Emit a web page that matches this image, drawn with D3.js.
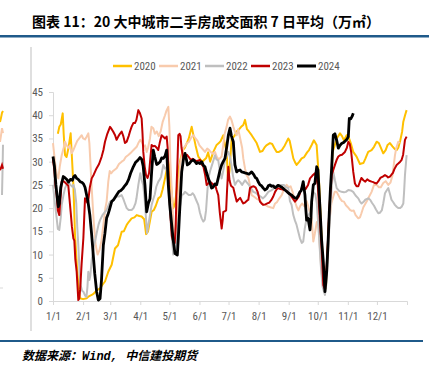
<!DOCTYPE html>
<html>
<head>
<meta charset="utf-8">
<script src="https://cdn.jsdelivr.net/npm/d3@7"></script>
<style>
  html, body { margin: 0; padding: 0; background: #fff; }
  svg { display: block; }
  .tick-label { font-family: "Liberation Sans Narrow", "Roboto Condensed", Arial, sans-serif; font-size: 11px; fill: #595959; }
</style>
</head>
<body>
<svg id="chart" width="429" height="373"></svg>
<script>
// month ticks (day of year) and labels
const monthDays = [0, 31, 59, 90, 120, 151, 181, 212, 243, 273, 304, 334];
const monthLabels = ["1/1", "2/1", "3/1", "4/1", "5/1", "6/1", "7/1", "8/1", "9/1", "10/1", "11/1", "12/1"];
const yTicks = [0, 5, 10, 15, 20, 25, 30, 35, 40, 45];

const years = ["2020", "2021", "2022", "2023", "2024"];
const colors = ["#ffc000", "#f8cbad", "#bfbfbf", "#c00000", "#000000"];

// [day of year, value]
const s2020 = [[5,36],[6.5,37.5],[8,38],[10,40.4],[11,36],[12.4,31.4],[14,31],[16,33],[18.2,36.1],[19,33],[21,25],[22.7,14.2],[24.5,8],[26.1,3.4],[27.8,0.6],[31,0.4],[34.7,0.6],[37,1],[39.9,1.3],[42,1.6],[45,2.3],[48.5,2.7],[51,3.5],[53.6,4.2],[57,6.3],[60.5,7.8],[63.9,11.3],[67,12],[70.8,14.9],[73,15],[76,16.4],[78,17],[81.1,17.8],[84,18],[86.3,18.5],[89,18.3],[91.4,18.2],[94,17.6],[96,14.4],[98,15],[101.7,19.2],[104,19.6],[106,20.5],[108.6,22.1],[111,22.5],[113,24],[115.5,26.4],[117,28],[118.9,30],[120,29],[122,24],[124,20],[126,21],[128,25],[130,29],[132,31],[134,32.5],[136,33],[138,34],[140,35],[143,37.5],[145,35.5],[147,33.5],[149.8,31.1],[152,30.5],[154,30],[156,30.4],[158,30.8],[160,32],[162,30],[165.3,32.1],[168.7,33.6],[171,34],[173,34.5],[175.6,35.7],[177,34],[179,32.1],[180.5,26],[182,28],[184.2,35],[187,35.5],[189.4,36.5],[192,37],[194,37.5],[196.2,37.9],[198,39],[200,37],[202,36.5],[204.8,35.7],[207,35],[210,34],[213.4,32.1],[216,32.3],[218,33],[220,33.5],[223.7,34],[226,33.8],[228,33],[230.6,32.1],[233,32.1],[236,32.5],[239,33.5],[242.6,35],[244,34.5],[246,32.5],[247.8,30.7],[249.5,29.9],[251.2,29.3],[254,30],[256.4,30.7],[259,31],[262,32],[264,32.5],[266.7,33.6],[269,34.6],[271.8,33.6],[273,30],[274.5,25],[276,17.8],[278.7,6.3],[281.4,2.7],[283,10],[284.5,17],[286.3,22.1],[288.3,32.1],[290.5,33.5],[292.5,35],[295.9,36.1],[298,35.5],[300,34.6],[302.8,35.7],[305,35.2],[307,34],[309.6,32.1],[313,31.1],[316.5,29.5],[318,29.6],[320,29.7],[322,30.6],[325,32.1],[328.5,32.5],[331,33.2],[333.7,34.3],[336,34],[338,33],[340.5,31.8],[343,32.5],[345,33.6],[347.4,34],[350,33.3],[352,32.8],[354.3,32.5],[356,33],[358,34.5],[360,36.5],[361.2,38.6],[363,40],[364.6,41.1]];

const s2021 = [[0,34],[2,30],[4,27],[5.5,26.4],[7,29],[9,31.4],[11,33],[12.4,34.3],[14,33.5],[16,33],[17.5,33.5],[19.3,31.8],[21,32.5],[23,33.5],[25,34.5],[27,35],[29.6,35.7],[31,35],[33,34.8],[34.5,35.3],[36.4,36.1],[37.5,34],[38.5,30],[40,24],[42,17],[44,12],[46,10],[48,11],[50,13],[52,16.5],[54,20],[55.3,21.4],[57,25.7],[58.5,28],[60,27.5],[62,28],[65.6,28.6],[68,29.5],[70.8,30],[73,30.3],[75,31],[78,31.5],[81.1,32.1],[83,32.5],[86.3,33.2],[88,34],[90,34.7],[92,34],[93.1,33.2],[95,33.5],[96.6,32.1],[98,33],[100,35],[101.5,37.5],[103.4,37.2],[105,36],[107,36.5],[109,35.5],[111,36.5],[113,38.5],[115.5,40],[117,41],[118.9,41.8],[120,37.5],[121,30],[122.4,24],[124,17],[126,13],[128,17],[130,24],[130.9,29.3],[132.5,31],[134.3,32.9],[136,33.3],[138,34],[140,34.2],[142,35],[144.7,35.7],[147,35],[149,34.5],[151,33.5],[153,33],[156.7,32.1],[159,32.8],[161,32.5],[163,32],[165,31.7],[167,32.1],[169,31],[171,30.5],[173.9,31.1],[175.5,33.5],[177,36],[179,37.5],[180.5,39],[182.5,39.7],[184,39],[186,37.5],[187.5,36.5],[189.4,35.7],[191,37],[193,35],[195,33],[196.2,30.7],[198,28.5],[199.7,27.1],[201.5,26.5],[203,25],[204.8,22.8],[207,22.5],[210,22],[213.4,21.7],[216.8,20.7],[219,20.7],[221,20.4],[224,20.2],[227.1,20],[229,21],[231,21.3],[233,22],[235.8,22.8],[238,24],[240.9,25],[243,24.5],[245,24.7],[247,23.5],[249,21.8],[251.2,20.3],[253,19.5],[255,20.5],[257,21],[259,20.4],[261.5,21.5],[263,20.5],[265,19],[266.7,17.8],[268.4,12.8],[270,14.5],[272,17],[273.5,17],[275,12],[277,6],[279,3],[281,3],[283,10],[285,17],[287,21],[289,22.5],[290.5,23.5],[292.5,23.5],[295.9,22.1],[298,21.5],[300,21.4],[302,20.6],[304,20.2],[306.2,19.6],[308,19.4],[310,19.5],[312,18.5],[314.8,17.8],[316.5,18],[318,18.9],[320,20.2],[323.4,21.4],[326,22.5],[328.5,23.5],[331,25],[333.7,25],[336,24.5],[338,24.5],[340.5,25.4],[343,25.8],[345.7,25],[348,25.5],[350,27],[352.6,31.4],[354,33],[356,34.3],[357.5,34]];

const s2022 = [[0,25],[2,21],[3.8,17.8],[5,15.5],[6.5,15.3],[8,18],[9,20.7],[11,23],[12.4,24.3],[14,25],[16,25.5],[18,25],[20,24.6],[21,25],[22.5,24],[24,21],[25,16],[26.1,12],[27.5,6],[28.5,3.4],[30,2.2],[31.3,2],[33,1.2],[34.5,0.9],[35.5,3],[36.4,6.3],[37.5,4.5],[38.5,5.5],[40,9],[42,11.7],[44,13.5],[45,14.6],[47,16.5],[48.5,17.4],[51,18.5],[53.6,19.2],[55.3,19.6],[57,20.5],[58.8,21.4],[61,21.6],[63,22],[65.6,22.5],[68,22.5],[70.8,22.8],[72.5,22],[74.2,21],[76,20],[78,19.6],[81.1,19.6],[83,20],[85,21],[86,22],[88,25],[90,27.5],[91.5,26],[93,25],[94.5,22],[96,17.4],[97,14.6],[98.3,16.4],[100,18.5],[101.7,20.7],[103.5,22],[105,23],[106.5,24.6],[108.6,25.7],[110.5,26.3],[111.5,26.8],[113.7,29.3],[115.5,28.5],[117,28.8],[118.5,26],[120,21],[122,15],[124,10],[126,10.5],[128,14],[130,19],[132.7,22.8],[134.5,23],[136.1,23.5],[138,23.2],[140,22.8],[142,22.8],[144,23.2],[145.5,22.8],[147.5,21.8],[149.8,20.7],[151.5,19],[153.3,17.8],[155,17.1],[156.5,17.5],[157.8,19.5],[160.1,26.4],[162,28],[164,29.3],[167,31.4],[168.5,30.5],[170.4,30.3],[172,28],[173.9,26.4],[175.5,28],[177.5,30.5],[180.8,32.1],[182.5,31],[184,29.3],[185.5,27],[187.6,25],[189.5,25.7],[191,26],[193,25.6],[195,25],[198,26],[200,25.5],[202,25],[204,24.3],[206.5,23.5],[209,23.3],[211.7,22.8],[214,22.5],[216.5,22.1],[219,22.6],[222,23.5],[225,23.8],[228,24.3],[232.3,25],[235,25],[238,25],[240,24.5],[242.6,24.3],[244.3,21.5],[246,20.7],[247.8,18.5],[249.5,17.3],[251,16.5],[252.9,14.9],[254.6,13.5],[256.5,12.5],[258,12.8],[259.5,15.5],[261.5,17.8],[263.5,18.5],[265.5,19.2],[267,22],[268.5,23.5],[270.5,23],[272,21],[274,15],[276,8],[278,3],[280.4,1.3],[282,4],[284,12],[286,20],[287.5,25],[289,27.8],[290.7,26],[292.5,24.3],[295,23.7],[297.5,23.5],[300,23.4],[302,23.5],[304.5,23.9],[307,23.8],[309.5,23.5],[312,22.7],[314.8,22.1],[316.5,21.4],[318.2,21],[320,21.3],[322,21.8],[325,22.1],[327,21.8],[329,21.1],[331,20.5],[333,19.7],[335.4,18.9],[337,19],[339,19.5],[340.5,21],[342.3,23.2],[344,23.8],[345.7,24.3],[347.5,23],[349,21.8],[351,21.2],[352.5,20.7],[354.3,20.3],[356,20],[357.7,20],[359.5,20.3],[361.2,21],[362,23.5],[362.9,27.1],[364.6,31.4]];

const s2023 = [[0,30.5],[1.5,28],[2.5,25],[3.8,22.8],[5,19.5],[6.5,18.5],[7.5,21.5],[9,25.7],[11,25.8],[13,25.4],[15.8,24.8],[17,22],[18.2,19.2],[19.5,16],[21,13.5],[22,13],[23,9],[24.4,6.3],[25.3,3],[26.1,0.2],[27,0.5],[28,2.5],[29.5,8],[31.3,13.5],[32.2,18],[33,22.1],[34.5,21.5],[36,21],[38,24.5],[39.9,26.4],[42,27.2],[45,28.6],[47.5,29.5],[50.2,31.1],[52,32.5],[53.6,34.3],[56,36],[58.8,37.5],[60.5,37],[62,36.5],[64,35.7],[65.6,34.7],[67.5,35.5],[69,36],[70.8,36.5],[72.5,35.5],[74.2,34],[76,34.3],[78,35.5],[79.4,36.5],[81,37.5],[82.8,38.3],[84.5,38.3],[86,39],[88,41.1],[89.5,40.5],[91.4,39.3],[92.3,36],[93.1,32.1],[94.5,29],[95.9,27.1],[97.5,26.5],[99,27.5],[100.5,31],[101.7,33.6],[103.5,33.3],[105,33.4],[106.9,33],[108.5,32.5],[110,34],[112,35.7],[114,35.3],[115.5,35],[117.2,35.4],[118.2,33],[118.9,28.6],[120,23],[121.3,17.8],[122.5,14],[124,12.8],[125.5,12.5],[126.5,16],[127.5,25],[128.5,31],[129.2,35.7],[130.5,36],[131.5,35.5],[132.5,33],[134.3,30.7],[136.5,31.2],[138,31.5],[140,31],[142,30.4],[144,30.6],[146,30.3],[148,30.1],[151.5,30.4],[153,29.5],[155,29],[157,27],[158.4,25],[160,25.3],[162,25.7],[164,25.3],[165.3,25],[167,25.2],[168.5,24],[170.4,22.8],[172,19],[173.9,15.6],[175,17.5],[175.6,19.2],[177,19.3],[178.5,19.5],[179.5,24],[180.8,28.9],[182,26],[183.5,24.8],[185.9,24.4],[187.5,23],[189.4,21.4],[191,21.8],[193,22.2],[195,21.4],[196.2,21],[198,21.2],[200,21.6],[201.4,21.8],[203.1,24.3],[205,24.6],[207,24.7],[209,24.4],[211,23.5],[213.4,21.4],[215,21],[216.8,20.7],[219,20.8],[221,21],[223,21.2],[225,21.7],[227.1,22.5],[229,23.5],[230.5,24],[232,24.3],[234.5,24.1],[237,24],[239.2,23.9],[241,23.6],[244.3,23],[246.5,22.3],[249.5,21.4],[251.5,21.9],[253.5,22.5],[256.4,24.3],[258.5,24.5],[260.5,24.1],[263,25],[265,26.4],[267.5,27],[270.1,27.5],[271.5,26.5],[273,25],[275,18],[277,11.3],[278.7,3.4],[280.5,2.5],[282,6.6],[283.5,13],[285,20],[287.3,27.1],[289,28.2],[290.7,29.3],[292.5,30.4],[294.2,31.1],[296,31.4],[298,31.5],[301,32.1],[303,33],[304.5,34.3],[306,33.8],[307.5,32],[309.6,27.8],[311.3,25.3],[313,24.7],[314.8,24.7],[316.5,25.7],[318,26.5],[320,26],[322,25.7],[324,26.2],[326,25.9],[328.5,25.7],[330.2,25.6],[332,25.4],[333.7,25.3],[335.5,25.8],[337.5,26.5],[340,26.8],[342.3,27.1],[344,26.9],[345.5,26.6],[347.4,26.8],[349,27.2],[350.5,27.6],[352,28.4],[354.3,29.3],[356,29.6],[358,30],[359.5,30.4],[361,31.5],[362.9,34.7],[364.6,35.4]];

const s2024 = [[0,31.1],[1.5,29],[3,25],[4.5,22],[5.5,20.3],[6.5,21],[8,24.5],[10.6,26.8],[12.5,26.5],[14,26.2],[16,25.6],[18,26.2],[20,26],[21.5,26.8],[22.7,27],[24.5,26.4],[26,26.2],[28,25.7],[30,25.5],[31.5,25.2],[33,24.5],[34.7,22.8],[36,21.5],[38,18.5],[39.9,14.2],[41.5,10],[43,6],[45,2],[46.7,0.2],[48.5,0.5],[50,4.5],[51.9,12],[53.5,14.5],[55.3,17.9],[56.5,18.5],[58,19.5],[60.5,21.4],[62.5,21.8],[65.6,22.8],[68,23.6],[70,23.8],[72,24.2],[74,24.8],[76,25.3],[78,26.2],[80,27.5],[82.8,28.9],[85,29.8],[87.5,30.3],[89.7,30.9],[91.5,30.5],[93,29],[94.8,25],[96.6,19.2],[98.3,21],[100,22],[101.7,27.8],[103.4,32.5],[105,31],[106.9,29.4],[108.5,29.6],[110.5,30],[112,30.8],[113.7,30.7],[115.5,31.2],[117.2,32.5],[118.9,25],[120.5,20.5],[122.4,16.4],[124,13],[125.8,10.2],[128.2,9.9],[129.2,13.5],[130.2,17.8],[131.5,23],[132.7,27.8],[134.5,30.5],[136.1,31.8],[137.5,30.5],[138.5,29.3],[140.5,29.6],[142.5,30.1],[144.7,30.4],[146.5,30],[148,29.6],[149.8,29.8],[151.5,29.6],[153.3,30],[155,29.2],[156.7,28.9],[158.5,27.5],[160.1,26.4],[161.8,25.5],[163.5,24.3],[165,24.5],[167,25.2],[168.7,25],[170.4,26.5],[172,28],[173.9,29.3],[175.5,30],[177.3,30.7],[179,33],[180.8,35.7],[182.5,37.2],[184,35.5],[185.9,34.3],[186.8,31.5],[187.6,29.3],[189.4,27.8],[191,28.1],[192.8,28.2],[194.5,27.8],[196.5,27.7],[198,27.6],[199.7,27.5],[202,27.3],[204.8,27.8],[207,27.2],[208.5,26.6],[210,26.4],[212,25.5],[213.4,25],[215,24.8],[216.8,24.3],[218.6,23.9],[220.5,24.2],[222,24.8],[223.7,25],[225.5,24.7],[227,24.8],[228.9,24.4],[230.5,24.6],[232,24.9],[234,24.7],[236,24.5],[237.5,24.2],[239.2,23.9],[241,23.6],[243,23.2],[246,22.8],[248,22.4],[249.5,22.2],[251.2,22.1],[253,22.8],[254.6,23.5],[256,23.8],[258,25.7],[259.8,22.8],[260.6,20],[261.5,17.4],[263,17.8],[264,16.5],[265,15.3],[266,18],[266.7,21.4],[268.4,25],[270,25.3],[271.9,28.9],[273.2,28.2],[274,25],[275.3,20],[277,13],[278.7,8.5],[280.4,2],[282.2,6.3],[283.5,12],[284.9,19.2],[286,24],[287.3,28.6],[289,35.7],[290.7,36],[292.5,34.6],[294.2,32.9],[295.9,33.5],[297.6,33.9],[299.5,34.1],[301,34.4],[303,34.8],[304.5,35.4],[305.5,39.3],[307,39.2],[308.5,39.8],[309.6,40.4]];

// cropped right end of the neighbouring chart, visible at the left edge
const edgeYellow = [[0,35.9],[1,36.8],[2,37.9],[3,38.3]];
const edgeSalmon = [[0,31.6],[1,33],[2,34.6],[3,33.5]];
const edgeGray = [[2,20.1],[2.5,25],[3,31]];
const edgeRed = [[0,25.5],[1,26],[2,26.6],[3,25.8]];

const series = [s2020, s2021, s2022, s2023, s2024];
const widths = [2, 2, 2, 2, 2.8];

const svg = d3.select("#chart");

// header and footer
svg.append("text")
  .attr("x", 32).attr("y", 27)
  .attr("font-family", "'Noto Sans CJK SC', sans-serif")
  .attr("font-weight", 700)
  .attr("font-size", 14)
  .attr("fill", "#000")
  .text("图表 11：20 大中城市二手房成交面积 7 日平均（万㎡）");

svg.append("rect").attr("x", 0).attr("y", 35).attr("width", 429).attr("height", 2.5).attr("fill", "#1f5a8a");
svg.append("rect").attr("x", 0).attr("y", 340).attr("width", 423).attr("height", 2).attr("fill", "#1f5a8a");
svg.append("line").attr("x1", 31).attr("x2", 31).attr("y1", 47).attr("y2", 331)
  .attr("stroke", "#bfbfbf").attr("stroke-width", 1);

const src = svg.append("text")
  .attr("x", 22).attr("y", 360)
  .attr("font-family", "'Noto Sans CJK SC', sans-serif")
  .attr("font-size", 12)
  .attr("font-style", "italic")
  .attr("font-weight", 700)
  .attr("fill", "#000");
src.append("tspan").text("数据来源：");
src.append("tspan").attr("font-family", "'Liberation Mono', monospace").text("Wind, ");
src.append("tspan").text("中信建投期货");

// edge fragment
const ex = d3.scaleLinear().domain([0, 3]).range([0, 3]);
const ey = d3.scaleLinear().domain([0, 45]).range([288, 80]);
const edgeLine = d3.line().x(d => ex(d[0])).y(d => ey(d[1]));
svg.append("line").attr("x1", 0).attr("x2", 3).attr("y1", 288).attr("y2", 288).attr("stroke", "#d9d9d9");
[[edgeGray, colors[2]], [edgeSalmon, colors[1]], [edgeYellow, colors[0]], [edgeRed, colors[3]]].forEach(([d, c]) => {
  svg.append("path").attr("d", edgeLine(d)).attr("fill", "none").attr("stroke", c).attr("stroke-width", 2);
});

// main chart
const x = d3.scaleLinear().domain([0, 365]).range([53, 407]);
const y = d3.scaleLinear().domain([0, 45]).range([301, 92]);

const yAxis = svg.append("g")
  .attr("transform", `translate(${x(0)},0)`)
  .call(d3.axisLeft(y).tickValues(yTicks).tickSize(4).tickPadding(6));
yAxis.select(".domain").attr("stroke", "#d9d9d9");
yAxis.selectAll(".tick line").attr("stroke", "#d9d9d9");
yAxis.selectAll(".tick text").attr("class", "tick-label");

const xAxis = svg.append("g")
  .attr("transform", `translate(0,${y(0)})`)
  .call(d3.axisBottom(x).tickValues(monthDays).tickFormat((d, i) => monthLabels[i]).tickSize(4).tickPadding(7).tickSizeOuter(4));
xAxis.select(".domain").attr("stroke", "#d9d9d9");
xAxis.selectAll(".tick line").attr("stroke", "#d9d9d9");
xAxis.selectAll(".tick text").attr("class", "tick-label");

const line = d3.line().x(d => x(d[0])).y(d => y(d[1]));
series.forEach((s, i) => {
  svg.append("path")
    .attr("d", line(s))
    .attr("fill", "none")
    .attr("stroke", colors[i])
    .attr("stroke-width", widths[i])
    .attr("stroke-linejoin", "round");
});

// legend
const legendX = [113, 159, 205, 251, 297];
const lg = svg.append("g");
years.forEach((yr, i) => {
  lg.append("line")
    .attr("x1", legendX[i]).attr("x2", legendX[i] + 19)
    .attr("y1", 66).attr("y2", 66)
    .attr("stroke", colors[i]).attr("stroke-width", i === 4 ? 3 : 2.5);
  lg.append("text")
    .attr("class", "tick-label")
    .attr("x", legendX[i] + 21).attr("y", 70)
    .text(yr);
});
</script>
</body>
</html>
